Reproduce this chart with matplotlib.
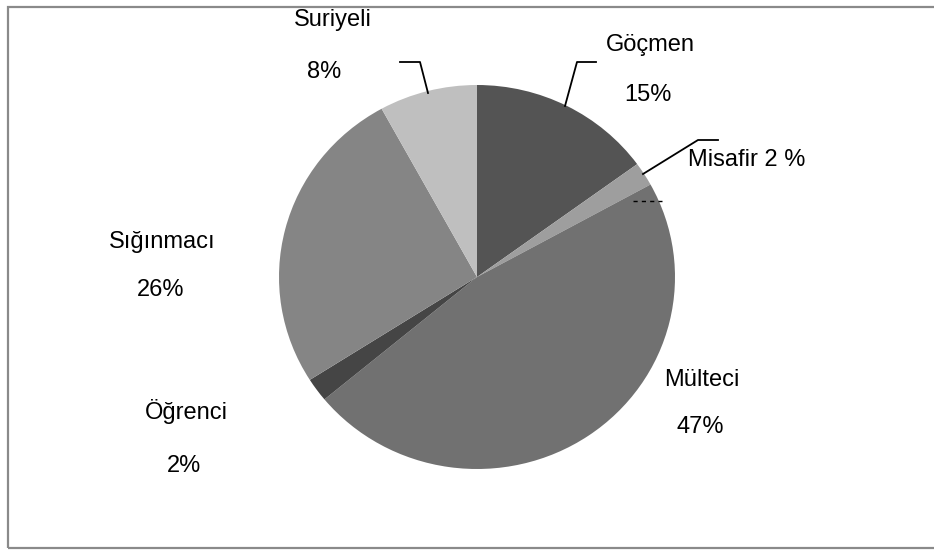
import matplotlib
matplotlib.use("Agg")
import matplotlib.pyplot as plt
import matplotlib.patches as mpatches
from matplotlib.transforms import Affine2D

# Veriler
labels = ["Göçmen", "Misafir", "Mülteci", "Öğrenci", "Sığınmacı", "Suriyeli"]
values = [15, 2, 47, 2, 26, 8]
colors = ["#545454", "#9e9e9e", "#717171", "#454545", "#858585", "#bfbfbf"]

# Etiket metinleri (ad, yüzde)
label_texts = ["Göçmen", "Misafir 2 %", "Mülteci", "Öğrenci", "Sığınmacı", "Suriyeli"]
pct_texts = ["15%", None, "47%", "2%", "26%", "8%"]

W, H = 934, 551
plt.rcParams["font.family"] = ["Liberation Sans", "DejaVu Sans"]

fig = plt.figure(figsize=(W / 100, H / 100), dpi=100)
ax = fig.add_axes([0, 0, 1, 1])


def py(y):
    # piksel y -> veri y
    return H - y


# Çerçeve
ax.add_patch(mpatches.Rectangle((7.5, py(548)), W, 548 - 6.5, fill=False,
                                edgecolor="#8a8a8a", linewidth=1.6))

# Pasta (biraz yatay basık, Excel çıktısındaki gibi)
cx, cy = 477, py(277)
rx, ry = 198, 192
wedges, _ = ax.pie(values, colors=colors, startangle=90, counterclock=False,
                   center=(cx, cy), radius=rx,
                   wedgeprops=dict(linewidth=0), frame=True)
squash = Affine2D().translate(-cx, -cy).scale(1, ry / rx).translate(cx, cy)
for w in wedges:
    w.set_transform(squash + ax.transData)

ax.set_xlim(0, W)
ax.set_ylim(0, H)
ax.set_aspect("equal")
ax.axis("off")

# Etiket konumları (piksel)
name_pos = [(650, 45), (747, 160), (702, 380), (186, 412), (162, 242), (333, 20)]
pct_pos = [(648, 95), None, (700, 427), (184, 466), (161, 290), (324, 72)]

fs = 17
for t, (x, y) in zip(label_texts, name_pos):
    ax.text(x, py(y), t, ha="center", va="center", fontsize=fs, color="black")
for t, p in zip(pct_texts, pct_pos):
    if t is None:
        continue
    ax.text(p[0], py(p[1]), t, ha="center", va="center", fontsize=fs, color="black")

# Kılavuz çizgiler
leaders = [
    [(400, 62), (420, 62), (428, 93)],   # Suriyeli
    [(596, 62), (577, 62), (565, 106)],  # Göçmen
    [(718, 140), (698, 140), (643, 174)],  # Misafir
]
for pts in leaders:
    xs = [p[0] for p in pts]
    ys = [py(p[1]) for p in pts]
    ax.plot(xs, ys, color="black", linewidth=1.3)
ax.plot([633, 662], [py(201), py(201)], color="black", linewidth=1,
        linestyle=(0, (3, 3)))

fig.savefig("out.png", dpi=100, facecolor="white")
